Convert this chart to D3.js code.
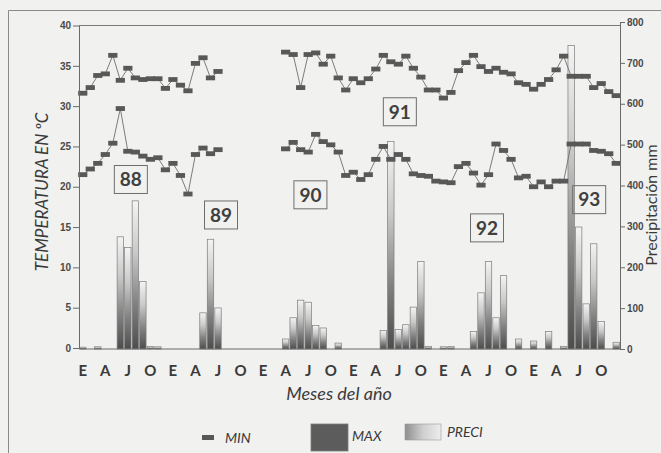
<!DOCTYPE html>
<html>
<head>
<meta charset="utf-8">
<script src="https://cdn.jsdelivr.net/npm/d3@7/dist/d3.min.js"></script>
<style>
  body { margin: 0; background: #f1f1ef; }
  svg { display: block; }
</style>
</head>
<body>
<div id="chart"></div>
<script>
// monthly series, Jan 1988 .. Dec 1993 (72 months), null = no data
const years = ['88', '89', '90', '91', '92', '93'];
const monthLabels = ['E', 'A', 'J', 'O'];

const maxTemp = [
  31.6, 32.3, 33.8, 34.0, 36.3, 33.2, 34.7, 33.5, 33.3, 33.4, 33.4, 32.2,
  33.3, 32.6, 31.9, 35.3, 36.0, 33.5, 34.3, null, null, null, null, null,
  null, null, null, 36.7, 36.4, 32.3, 36.4, 36.6, 35.2, 36.2, 33.5, 32.0,
  33.4, 32.9, 33.4, 34.6, 36.3, 35.5, 35.2, 36.2, 34.7, 33.6, 32.0, 32.0,
  31.0, 31.7, 34.4, 35.4, 36.3, 34.9, 34.3, 34.7, 34.2, 34.0, 32.9, 32.7,
  32.1, 32.7, 33.3, 34.5, 36.2, 33.7, 33.7, 33.7, 32.3, 32.8, 31.8, 31.3
];

const minTemp = [
  21.5, 22.2, 22.9, 24.0, 25.4, 29.7, 24.4, 24.3, 23.8, 23.4, 23.6, 22.1,
  22.9, 21.4, 19.1, 24.0, 24.8, 24.1, 24.6, null, null, null, null, null,
  null, null, null, 24.7, 25.5, 24.6, 24.3, 26.5, 25.6, 25.2, 24.3, 21.4,
  21.8, 20.9, 21.5, 23.4, 25.0, 23.4, 24.0, 23.4, 21.6, 21.4, 21.3, 20.7,
  20.6, 20.5, 22.5, 22.9, 21.7, 20.2, 21.5, 25.3, 24.5, 23.4, 21.1, 21.3,
  20.0, 20.6, 20.0, 20.7, 20.7, 25.3, 25.3, 25.3, 24.5, 24.4, 24.1, 22.9
];

const precip = [
  2, null, 3, null, null, 272, 246, 360, 163, 4, 3, null,
  null, null, null, null, 86, 266, 98, null, null, null, null, null,
  null, null, null, 22, 74, 117, 112, 55, 49, null, 12, null,
  null, null, null, null, 43, 505, 45, 57, 100, 212, 4, null,
  3, 4, null, null, 40, 135, 212, 74, 177, null, 22, null,
  17, null, 40, null, 4, 740, 296, 108, 255, 65, null, 14
];

const legendNames = ['MIN', 'MAX', 'PRECI'];

const width = 661, height = 453;
const plot = { left: 79, right: 620, top: 25, bottom: 348 };

const svg = d3.select('#chart').append('svg')
  .attr('width', width)
  .attr('height', height);

const defs = svg.append('defs');
const barGrad = defs.append('linearGradient')
  .attr('id', 'barGrad').attr('x1', 0).attr('y1', 0).attr('x2', 0).attr('y2', 1);
[[0, '#f4f4f4'], [0.35, '#c9c9c9'], [0.7, '#808080'], [1, '#4d4d4d']].forEach(s =>
  barGrad.append('stop').attr('offset', s[0]).attr('stop-color', s[1]));
const legGrad = defs.append('linearGradient')
  .attr('id', 'legGrad').attr('x1', 0).attr('y1', 0).attr('x2', 1).attr('y2', 0);
[[0, '#8e8e8e'], [0.5, '#cfcfcf'], [1, '#ededed']].forEach(s =>
  legGrad.append('stop').attr('offset', s[0]).attr('stop-color', s[1]));

// outer frame of the figure
svg.append('path')
  .attr('d', `M8.5,${height} V10.5 H${width}`)
  .attr('fill', 'none').attr('stroke', '#8a8a8a').attr('stroke-width', 1);

// scales
const months = d3.range(72);
const x = d3.scaleBand().domain(months).range([plot.left, plot.right]);
const xc = i => x(i) + x.bandwidth() / 2;
const yT = d3.scaleLinear().domain([0, 40]).range([plot.bottom, 25.5]);
const yP = d3.scaleLinear().domain([0, 800]).range([349, 22]);

// plot box top line
svg.append('line')
  .attr('x1', plot.left).attr('x2', plot.right)
  .attr('y1', plot.top + 0.5).attr('y2', plot.top + 0.5)
  .attr('stroke', '#7a7a7a').attr('stroke-width', 1);

// precipitation bars
svg.append('g').selectAll('rect')
  .data(months.filter(i => precip[i] != null))
  .enter().append('rect')
  .attr('x', i => xc(i) - 3.2)
  .attr('width', 6.4)
  .attr('y', i => yP(precip[i]) - 1)
  .attr('height', i => yP(0) - yP(precip[i]) + 1)
  .attr('fill', 'url(#barGrad)')
  .attr('stroke', '#7c7c7c')
  .attr('stroke-width', 0.7);

// temperature series
const line = d3.line()
  .defined(d => d.v != null)
  .x(d => xc(d.i))
  .y(d => yT(d.v));

[maxTemp, minTemp].forEach(series => {
  const pts = series.map((v, i) => ({ i, v }));
  svg.append('path')
    .datum(pts)
    .attr('d', line)
    .attr('fill', 'none')
    .attr('stroke', '#6e6e6e')
    .attr('stroke-width', 0.9);
  svg.append('g').selectAll('rect')
    .data(pts.filter(d => d.v != null))
    .enter().append('rect')
    .attr('x', d => xc(d.i) - 4.6)
    .attr('y', d => yT(d.v) - 2.4)
    .attr('width', 9.2)
    .attr('height', 4.8)
    .attr('fill', '#585858');
});

// axes
const tickFont = g => g.selectAll('text')
  .attr('font-family', 'Liberation Sans, Arial, sans-serif')
  .attr('font-weight', 'bold')
  .attr('font-size', 10)
  .attr('fill', '#4a4a4a');

const leftAxis = svg.append('g')
  .attr('transform', `translate(${plot.left},0)`)
  .call(d3.axisLeft(yT).tickValues(d3.range(0, 41, 5)).tickSize(6).tickPadding(2).tickSizeOuter(0));
leftAxis.call(tickFont);

const rightAxis = svg.append('g')
  .attr('transform', `translate(${plot.right},0)`)
  .call(d3.axisRight(yP).tickValues(d3.range(0, 801, 100)).tickSize(5).tickPadding(2).tickSizeOuter(0));
rightAxis.call(tickFont);

const monthTicks = months.filter(i => i % 3 === 0);
const bottomAxis = svg.append('g')
  .attr('transform', `translate(0,${plot.bottom + 0.5})`)
  .call(d3.axisBottom(x).tickValues(monthTicks).tickSize(0).tickPadding(17)
    .tickFormat(i => monthLabels[(i % 12) / 3]));
bottomAxis.selectAll('text')
  .attr('font-family', 'Lato, sans-serif')
  .attr('font-weight', 'bold')
  .attr('font-size', 15)
  .attr('fill', '#3a3a3a');

svg.selectAll('.domain').attr('stroke', '#6a6a6a');
svg.selectAll('.tick line').attr('stroke', '#6a6a6a');

// axis titles
svg.append('text')
  .attr('transform', 'translate(48,192) rotate(-90)')
  .attr('text-anchor', 'middle')
  .attr('font-family', 'Lato, sans-serif')
  .attr('font-style', 'italic')
  .attr('font-size', 17)
  .attr('fill', '#3a3a3a')
  .text('TEMPERATURA EN ºC');

svg.append('text')
  .attr('transform', 'translate(657,205) rotate(-90)')
  .attr('text-anchor', 'middle')
  .attr('font-family', 'Lato, sans-serif')
  .attr('font-size', 16)
  .attr('fill', '#3a3a3a')
  .text('Precipitación mm');

svg.append('text')
  .attr('x', 339).attr('y', 400)
  .attr('text-anchor', 'middle')
  .attr('font-family', 'Lato, sans-serif')
  .attr('font-style', 'italic')
  .attr('font-size', 18)
  .attr('fill', '#3a3a3a')
  .text('Meses del año');

// year boxes, placed in data coordinates (month index, temperature)
const yearSpots = [[6.4, 20.9], [18.4, 16.5], [30.3, 19.0], [42.2, 29.3], [53.8, 14.9], [67.4, 18.4]];
const yearG = svg.append('g').selectAll('g')
  .data(years)
  .enter().append('g')
  .attr('transform', (d, k) => {
    const px = x(0) + x.bandwidth() * (yearSpots[k][0] + 0.5);
    return `translate(${px},${yT(yearSpots[k][1])})`;
  });
yearG.append('rect')
  .attr('x', -16.5).attr('y', -14).attr('width', 33).attr('height', 28)
  .attr('fill', 'none').attr('stroke', '#6e6e6e').attr('stroke-width', 1);
yearG.append('text')
  .attr('text-anchor', 'middle').attr('dy', '0.36em')
  .attr('font-family', 'Lato, sans-serif')
  .attr('font-weight', 'bold')
  .attr('font-size', 19)
  .attr('fill', '#404040')
  .text(d => d);

// legend
const legend = svg.append('g');
legend.append('rect').attr('x', 202).attr('y', 435).attr('width', 12).attr('height', 5).attr('fill', '#585858');
legend.append('rect').attr('x', 311).attr('y', 424).attr('width', 37).attr('height', 27)
  .attr('fill', '#5c5c5c').attr('stroke', '#7a7a7a').attr('stroke-width', 0.8);
legend.append('rect').attr('x', 405).attr('y', 424).attr('width', 36).attr('height', 16)
  .attr('fill', 'url(#legGrad)').attr('stroke', '#9a9a9a').attr('stroke-width', 0.6);
legend.selectAll('text')
  .data(legendNames)
  .enter().append('text')
  .attr('x', (d, k) => [225, 352, 447][k])
  .attr('y', (d, k) => [443, 441, 437][k])
  .attr('font-family', 'Lato, sans-serif')
  .attr('font-style', 'italic')
  .attr('font-size', 14)
  .attr('fill', '#3a3a3a')
  .text(d => d);
</script>
</body>
</html>
